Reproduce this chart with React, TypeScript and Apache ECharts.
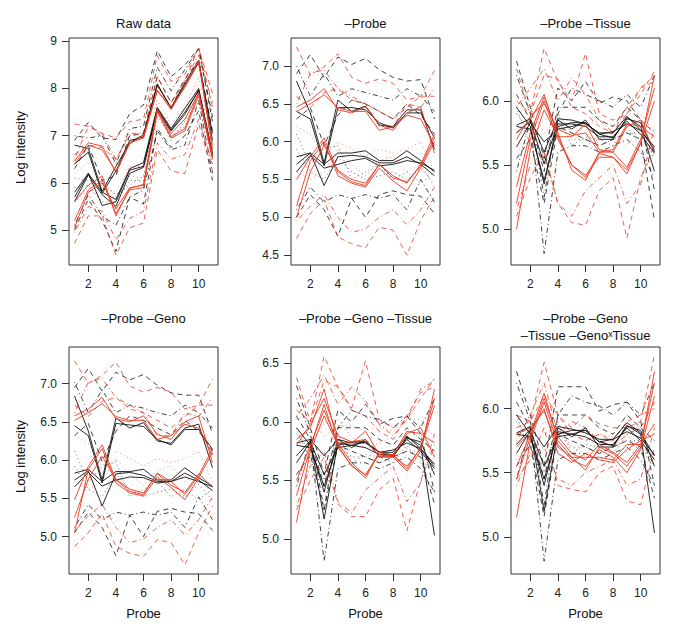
import React, { useEffect, useRef } from "react";
import * as echarts from "echarts";

const probes = [1, 2, 3, 4, 5, 6, 7, 8, 9, 10, 11];
const xTicks = [2, 4, 6, 8, 10];
// line type of each sample (same samples in every panel)
const sampleTypes = ["solid", "solid", "solid", "solid", "solid", "dashed", "dashed", "dashed", "dotdash", "dotdash", "dotted", "dotted"];

const rawBlack = [
  [5.80, 6.20, 5.80, 5.65, 6.30, 6.43, 7.60, 7.15, 7.58, 8.00, 6.60],
  [5.70, 6.20, 5.52, 5.60, 6.27, 6.35, 7.57, 7.12, 7.50, 7.95, 6.55],
  [5.60, 6.17, 5.75, 5.50, 6.20, 6.33, 7.53, 7.10, 7.45, 7.97, 6.62],
  [6.80, 6.73, 5.82, 6.35, 6.85, 7.02, 8.07, 7.60, 8.12, 8.60, 6.90],
  [6.40, 6.65, 5.78, 6.25, 6.90, 6.97, 8.10, 7.58, 8.08, 8.55, 7.05],
  [6.90, 7.28, 6.95, 6.92, 7.47, 7.65, 8.80, 8.25, 8.50, 8.85, 7.30],
  [5.00, 5.65, 5.20, 4.55, 5.70, 5.55, 7.15, 6.75, 7.00, 7.53, 6.05],
  [6.30, 6.80, 6.05, 6.15, 7.00, 7.05, 8.25, 7.70, 8.20, 8.60, 7.10],
  [7.00, 6.95, 7.00, 6.40, 7.15, 7.20, 8.45, 7.95, 8.40, 8.85, 7.40],
  [5.10, 5.75, 5.30, 5.10, 5.70, 5.85, 7.10, 6.70, 6.80, 7.75, 6.20],
  [5.90, 5.95, 5.60, 5.60, 6.05, 6.05, 7.40, 7.00, 7.20, 7.90, 6.45],
  [6.10, 6.05, 6.00, 5.75, 5.95, 6.15, 7.55, 6.90, 7.30, 7.70, 6.60],
];
const rawRed = [
  [5.60, 5.95, 6.15, 5.30, 5.88, 5.97, 7.55, 7.05, 7.35, 7.90, 6.50],
  [5.20, 5.85, 6.05, 5.35, 5.85, 5.90, 7.50, 6.95, 7.10, 7.85, 6.55],
  [5.05, 5.80, 6.00, 5.45, 5.90, 5.95, 7.55, 6.98, 7.15, 7.92, 6.60],
  [6.46, 6.85, 6.78, 6.22, 6.83, 7.00, 7.97, 7.55, 8.05, 8.60, 6.70],
  [6.40, 6.80, 6.70, 6.25, 6.85, 6.95, 7.95, 7.60, 8.02, 8.55, 6.80],
  [7.25, 7.20, 7.05, 6.95, 7.30, 7.35, 8.70, 8.15, 8.30, 8.85, 7.90],
  [4.72, 5.30, 5.30, 4.47, 5.05, 5.15, 6.70, 6.25, 6.20, 7.25, 6.25],
  [6.60, 6.80, 6.75, 6.50, 7.00, 7.05, 8.25, 7.70, 8.15, 8.88, 7.60],
  [6.50, 7.20, 7.05, 6.50, 7.05, 7.05, 8.05, 7.60, 8.20, 8.70, 7.70],
  [4.95, 5.50, 5.40, 4.80, 5.25, 5.40, 6.85, 6.50, 6.60, 7.35, 6.40],
  [5.60, 5.85, 5.70, 5.70, 6.15, 6.10, 7.60, 7.20, 7.30, 7.95, 6.40],
  [6.20, 6.45, 5.90, 5.80, 6.35, 6.35, 7.75, 7.25, 7.60, 8.25, 6.60],
];

const probeBlack = [
  [5.80, 5.85, 5.70, 5.85, 5.85, 5.88, 5.75, 5.75, 5.88, 5.75, 5.60],
  [5.70, 5.85, 5.42, 5.80, 5.82, 5.80, 5.72, 5.72, 5.80, 5.70, 5.55],
  [5.60, 5.82, 5.65, 5.70, 5.75, 5.78, 5.68, 5.70, 5.75, 5.72, 5.62],
  [6.80, 6.38, 5.72, 6.55, 6.40, 6.47, 6.22, 6.20, 6.42, 6.42, 5.90],
  [6.40, 6.30, 5.68, 6.45, 6.45, 6.42, 6.25, 6.18, 6.38, 6.38, 6.05],
  [6.90, 7.15, 6.85, 7.12, 7.02, 7.10, 6.95, 6.85, 6.80, 6.82, 6.30],
  [5.00, 5.30, 5.10, 4.75, 5.25, 5.00, 5.30, 5.35, 5.30, 5.28, 5.05],
  [6.30, 6.45, 5.95, 6.35, 6.55, 6.50, 6.40, 6.30, 6.50, 6.35, 6.10],
  [7.00, 6.60, 6.90, 6.60, 6.70, 6.65, 6.60, 6.55, 6.70, 6.60, 6.40],
  [5.10, 5.40, 5.20, 5.30, 5.25, 5.30, 5.25, 5.30, 5.10, 5.50, 5.20],
  [5.90, 5.60, 5.50, 5.80, 5.60, 5.50, 5.55, 5.60, 5.50, 5.65, 5.45],
  [6.10, 5.70, 5.90, 5.95, 5.50, 5.60, 5.70, 5.50, 5.60, 5.45, 5.60],
];
const probeRed = [
  [5.50, 5.80, 6.05, 5.60, 5.47, 5.42, 5.70, 5.52, 5.47, 5.68, 6.05],
  [5.15, 5.75, 6.00, 5.55, 5.45, 5.40, 5.65, 5.48, 5.35, 5.65, 6.00],
  [5.00, 5.60, 5.95, 5.62, 5.50, 5.45, 5.70, 5.55, 5.45, 5.70, 6.10],
  [6.46, 6.55, 6.70, 6.42, 6.38, 6.46, 6.22, 6.15, 6.38, 6.46, 5.85],
  [6.40, 6.50, 6.62, 6.45, 6.40, 6.40, 6.15, 6.20, 6.35, 6.30, 5.95],
  [7.25, 6.88, 6.99, 7.16, 6.85, 6.77, 6.83, 6.77, 6.55, 6.60, 6.94],
  [4.72, 5.05, 5.23, 4.74, 4.65, 4.60, 4.87, 4.83, 4.50, 4.96, 5.27],
  [6.60, 6.45, 6.65, 6.70, 6.55, 6.50, 6.40, 6.30, 6.45, 6.60, 6.60],
  [6.50, 6.90, 6.95, 6.70, 6.60, 6.50, 6.20, 6.20, 6.50, 6.45, 6.70],
  [4.95, 5.15, 5.30, 5.00, 4.80, 4.85, 5.00, 5.10, 4.90, 5.10, 5.40],
  [5.60, 5.50, 5.60, 5.90, 5.70, 5.55, 5.75, 5.80, 5.60, 5.70, 5.40],
  [6.20, 6.10, 5.80, 6.00, 5.90, 5.80, 5.90, 5.85, 5.90, 6.00, 5.60],
];

const tissueBlack = [
  [5.81, 5.86, 5.60, 5.86, 5.85, 5.82, 5.75, 5.75, 5.88, 5.77, 5.62],
  [5.75, 5.84, 5.51, 5.82, 5.82, 5.80, 5.72, 5.72, 5.84, 5.74, 5.59],
  [5.64, 5.83, 5.68, 5.78, 5.80, 5.83, 5.74, 5.76, 5.82, 5.77, 5.64],
  [5.95, 5.80, 5.35, 5.85, 5.78, 5.85, 5.70, 5.70, 5.87, 5.80, 5.45],
  [5.80, 5.78, 5.38, 5.80, 5.83, 5.83, 5.74, 5.71, 5.86, 5.83, 5.60],
  [6.31, 5.95, 5.55, 6.10, 6.00, 6.15, 5.98, 6.03, 6.00, 5.85, 5.30],
  [5.55, 5.70, 5.20, 5.80, 5.75, 5.70, 5.65, 5.70, 5.75, 5.70, 5.07],
  [6.05, 5.85, 5.45, 5.95, 5.95, 5.95, 5.85, 5.80, 5.95, 5.85, 5.75],
  [6.20, 5.90, 5.25, 5.90, 6.10, 6.05, 6.00, 5.95, 6.05, 5.95, 6.20],
  [5.45, 5.85, 4.81, 5.60, 5.65, 5.65, 5.60, 5.65, 5.70, 5.60, 5.40],
  [5.95, 5.65, 5.55, 5.80, 5.70, 5.70, 5.65, 5.70, 5.75, 5.75, 5.55],
  [5.90, 5.75, 5.50, 5.90, 5.65, 5.72, 5.70, 5.65, 5.80, 5.65, 5.65],
];
const tissueRed = [
  [5.33, 5.75, 6.03, 5.75, 5.46, 5.38, 5.59, 5.56, 5.46, 5.67, 6.00],
  [5.00, 5.62, 5.93, 5.72, 5.50, 5.42, 5.56, 5.56, 5.43, 5.67, 6.20],
  [5.20, 5.70, 6.00, 5.70, 5.50, 5.40, 5.60, 5.60, 5.48, 5.70, 6.10],
  [5.75, 5.85, 6.05, 5.72, 5.72, 5.82, 5.62, 5.60, 5.80, 5.85, 5.60],
  [5.70, 5.88, 5.98, 5.78, 5.73, 5.75, 5.60, 5.62, 5.82, 5.80, 5.72],
  [6.25, 5.90, 6.41, 6.15, 6.00, 6.37, 5.90, 5.85, 5.90, 6.05, 6.23],
  [5.10, 5.40, 5.60, 5.20, 5.05, 5.03, 5.30, 5.40, 4.93, 5.40, 5.65],
  [6.00, 5.90, 6.20, 6.17, 5.95, 5.90, 5.80, 5.75, 5.95, 6.10, 6.15],
  [5.95, 6.10, 6.25, 6.00, 6.18, 6.05, 5.85, 5.75, 5.90, 6.10, 6.20],
  [5.15, 5.50, 5.60, 5.20, 5.10, 5.30, 5.40, 5.50, 5.20, 5.35, 5.80],
  [5.60, 5.70, 5.85, 5.90, 5.75, 5.65, 5.70, 5.75, 5.65, 5.80, 5.55],
  [5.90, 5.95, 5.75, 5.85, 5.85, 5.80, 5.85, 5.80, 5.90, 5.90, 5.75],
];

const genoBlack = [
  [5.83, 5.88, 5.72, 5.85, 5.85, 5.88, 5.74, 5.74, 5.90, 5.77, 5.66],
  [5.74, 5.86, 5.40, 5.82, 5.84, 5.80, 5.72, 5.72, 5.83, 5.74, 5.60],
  [5.65, 5.84, 5.66, 5.74, 5.78, 5.77, 5.70, 5.72, 5.78, 5.72, 5.65],
  [6.84, 6.38, 5.74, 6.55, 6.42, 6.49, 6.25, 6.22, 6.42, 6.47, 5.90],
  [6.45, 6.32, 5.70, 6.48, 6.46, 6.44, 6.27, 6.20, 6.40, 6.40, 6.14],
  [6.95, 7.20, 6.90, 7.15, 7.05, 7.12, 6.98, 6.88, 6.85, 6.85, 6.35],
  [5.05, 5.32, 5.12, 4.75, 5.28, 5.00, 5.33, 5.37, 5.32, 5.30, 5.08],
  [6.32, 6.48, 5.98, 6.38, 6.58, 6.52, 6.42, 6.33, 6.52, 6.38, 6.12],
  [7.02, 6.62, 6.92, 6.62, 6.72, 6.68, 6.62, 6.58, 6.72, 6.62, 6.42],
  [5.12, 5.42, 5.22, 5.32, 5.28, 5.32, 5.28, 5.32, 5.12, 5.52, 5.22],
  [5.92, 5.62, 5.52, 5.82, 5.62, 5.52, 5.58, 5.62, 5.52, 5.68, 5.48],
  [6.12, 5.72, 5.92, 5.98, 5.52, 5.62, 5.72, 5.52, 5.62, 5.48, 5.62],
];
const genoRed = [
  [5.48, 5.92, 6.20, 5.74, 5.59, 5.55, 5.83, 5.72, 5.55, 5.80, 6.15],
  [5.05, 5.88, 6.15, 5.70, 5.57, 5.53, 5.78, 5.64, 5.48, 5.77, 6.10],
  [5.25, 5.75, 6.05, 5.75, 5.62, 5.57, 5.82, 5.67, 5.58, 5.82, 5.65],
  [6.58, 6.67, 6.82, 6.54, 6.50, 6.58, 6.34, 6.27, 6.50, 6.58, 5.97],
  [6.52, 6.62, 6.74, 6.57, 6.52, 6.52, 6.27, 6.32, 6.47, 6.42, 6.07],
  [7.30, 7.00, 7.11, 7.28, 6.97, 6.89, 6.95, 6.89, 6.67, 6.72, 7.06],
  [4.87, 5.05, 5.30, 4.87, 4.78, 4.74, 4.96, 4.92, 4.63, 5.05, 5.40],
  [6.72, 6.57, 6.77, 6.82, 6.67, 6.62, 6.52, 6.42, 6.57, 6.72, 6.72],
  [6.62, 7.02, 7.07, 6.82, 6.72, 6.62, 6.32, 6.32, 6.62, 6.57, 6.82],
  [5.07, 5.27, 5.42, 5.12, 4.92, 4.97, 5.12, 5.22, 5.02, 5.22, 5.52],
  [5.72, 5.62, 5.72, 6.02, 5.82, 5.67, 5.87, 5.92, 5.72, 5.82, 5.52],
  [6.32, 6.22, 5.92, 6.12, 6.02, 5.92, 6.02, 5.97, 6.02, 6.12, 5.72],
];

const genoTissueBlack = [
  [5.82, 5.85, 5.71, 5.85, 5.82, 5.82, 5.74, 5.74, 5.88, 5.77, 5.62],
  [5.71, 5.84, 5.17, 5.82, 5.80, 5.78, 5.72, 5.72, 5.85, 5.75, 5.60],
  [5.65, 5.83, 5.55, 5.78, 5.80, 5.83, 5.74, 5.76, 5.82, 5.77, 5.64],
  [5.95, 5.80, 5.40, 5.85, 5.78, 5.85, 5.70, 5.70, 5.87, 5.80, 5.03],
  [5.80, 5.78, 5.45, 5.80, 5.83, 5.83, 5.74, 5.71, 5.86, 5.83, 5.55],
  [6.31, 5.95, 5.55, 6.10, 6.00, 6.15, 5.98, 6.03, 6.05, 5.90, 5.40],
  [5.55, 5.72, 5.25, 5.80, 5.75, 5.70, 5.65, 5.70, 5.75, 5.70, 5.30],
  [6.05, 5.85, 5.45, 5.95, 5.95, 5.95, 5.85, 5.80, 5.95, 5.85, 5.75],
  [6.20, 5.90, 5.25, 5.95, 6.10, 6.05, 6.02, 5.95, 6.05, 5.95, 6.20],
  [5.45, 5.85, 4.81, 5.60, 5.65, 5.65, 5.60, 5.65, 5.70, 5.60, 5.40],
  [5.95, 5.65, 5.55, 5.80, 5.70, 5.70, 5.65, 5.70, 5.75, 5.75, 5.55],
  [5.90, 5.75, 5.50, 5.90, 5.65, 5.72, 5.70, 5.65, 5.80, 5.65, 5.65],
];
const genoTissueRed = [
  [5.50, 5.80, 6.10, 5.82, 5.65, 5.54, 5.74, 5.71, 5.62, 5.77, 6.14],
  [5.14, 5.75, 6.05, 5.80, 5.62, 5.55, 5.72, 5.70, 5.58, 5.75, 6.28],
  [5.37, 5.78, 6.15, 5.78, 5.63, 5.52, 5.74, 5.72, 5.60, 5.78, 6.20],
  [5.85, 5.95, 6.28, 5.82, 5.82, 5.92, 5.72, 5.70, 5.90, 5.95, 5.70],
  [5.80, 5.98, 6.20, 5.88, 5.83, 5.85, 5.70, 5.72, 5.92, 5.90, 5.82],
  [6.38, 6.00, 6.56, 6.30, 6.12, 6.52, 6.02, 5.95, 6.02, 6.20, 6.37],
  [5.25, 5.50, 5.70, 5.30, 5.19, 5.19, 5.42, 5.52, 5.07, 5.50, 5.80],
  [6.10, 6.00, 6.35, 6.30, 6.10, 6.05, 5.92, 5.85, 6.05, 6.25, 6.30],
  [6.05, 6.20, 6.40, 6.15, 6.30, 6.18, 5.98, 5.88, 6.02, 6.28, 6.35],
  [5.28, 5.62, 5.75, 5.32, 5.22, 5.42, 5.52, 5.62, 5.32, 5.48, 5.90],
  [5.72, 5.82, 5.98, 6.02, 5.87, 5.77, 5.82, 5.87, 5.77, 5.92, 5.67],
  [6.02, 6.07, 5.87, 5.97, 5.97, 5.92, 5.97, 5.92, 6.02, 6.02, 5.87],
];

const interBlack = [
  [5.81, 5.86, 5.70, 5.86, 5.84, 5.81, 5.76, 5.76, 5.89, 5.81, 5.63],
  [5.72, 5.84, 5.20, 5.82, 5.80, 5.78, 5.72, 5.72, 5.85, 5.75, 5.60],
  [5.65, 5.83, 5.55, 5.78, 5.80, 5.83, 5.74, 5.76, 5.82, 5.77, 5.64],
  [5.95, 5.80, 5.40, 5.85, 5.78, 5.85, 5.70, 5.70, 5.87, 5.80, 5.03],
  [5.80, 5.78, 5.45, 5.80, 5.83, 5.83, 5.74, 5.71, 5.86, 5.83, 5.55],
  [6.29, 5.95, 5.55, 6.17, 6.17, 6.17, 5.98, 6.03, 6.05, 5.90, 5.40],
  [5.55, 5.72, 5.16, 5.80, 5.75, 5.70, 5.65, 5.70, 5.75, 5.70, 5.30],
  [6.05, 5.85, 5.45, 5.95, 5.95, 5.95, 5.85, 5.80, 5.95, 5.85, 5.75],
  [6.20, 5.90, 5.25, 5.95, 6.10, 6.05, 6.02, 5.95, 6.05, 5.95, 6.20],
  [5.45, 5.85, 4.81, 5.60, 5.65, 5.65, 5.60, 5.65, 5.70, 5.60, 5.40],
  [5.95, 5.65, 5.55, 5.80, 5.70, 5.70, 5.65, 5.70, 5.75, 5.75, 5.55],
  [5.90, 5.75, 5.50, 5.90, 5.65, 5.72, 5.70, 5.65, 5.80, 5.65, 5.65],
];
const interRed = [
  [5.55, 5.80, 6.12, 5.75, 5.62, 5.52, 5.70, 5.65, 5.55, 5.70, 6.29],
  [5.15, 5.75, 6.05, 5.72, 5.60, 5.55, 5.68, 5.62, 5.50, 5.68, 6.10],
  [5.45, 5.78, 6.08, 5.78, 5.65, 5.60, 5.72, 5.66, 5.58, 5.72, 6.20],
  [5.70, 5.82, 6.00, 5.65, 5.58, 5.65, 5.60, 5.58, 5.68, 5.75, 5.80],
  [5.80, 5.85, 5.98, 5.70, 5.62, 5.62, 5.62, 5.60, 5.72, 5.72, 5.88],
  [5.95, 5.90, 6.36, 5.95, 5.85, 5.95, 5.88, 5.85, 5.85, 5.90, 6.42],
  [5.45, 5.60, 5.85, 5.40, 5.37, 5.35, 5.50, 5.55, 5.28, 5.25, 5.70],
  [5.85, 5.90, 6.10, 5.95, 5.80, 5.75, 5.80, 5.75, 5.90, 5.95, 6.00],
  [5.75, 5.95, 6.20, 5.80, 5.90, 5.85, 5.75, 5.70, 5.80, 5.85, 6.05],
  [5.40, 5.65, 5.70, 5.45, 5.40, 5.50, 5.55, 5.60, 5.40, 5.45, 5.85],
  [5.60, 5.75, 5.90, 5.85, 5.70, 5.65, 5.70, 5.75, 5.65, 5.80, 5.60],
  [5.85, 5.90, 5.80, 5.85, 5.80, 5.75, 5.80, 5.78, 5.85, 5.85, 5.75],
];

const panelTitles = [
  ["Raw data"],
  ["\u2013Probe"],
  ["\u2013Probe \u2013Tissue"],
  ["\u2013Probe \u2013Geno"],
  ["\u2013Probe \u2013Geno \u2013Tissue"],
  ["\u2013Probe \u2013Geno", "\u2013Tissue \u2013Geno\u02E3Tissue"],
];
const panelYTicks = [
  [5, 6, 7, 8, 9],
  [4.5, 5.0, 5.5, 6.0, 6.5, 7.0],
  [5.0, 5.5, 6.0],
  [5.0, 5.5, 6.0, 6.5, 7.0],
  [5.0, 5.5, 6.0, 6.5],
  [5.0, 5.5, 6.0],
];
const panelBlack = [rawBlack, probeBlack, tissueBlack, genoBlack, genoTissueBlack, interBlack];
const panelRed = [rawRed, probeRed, tissueRed, genoRed, genoTissueRed, interRed];
const yAxisLabel = "Log intensity";
const xAxisLabel = "Probe";

// layout
const colLeft = [69, 291, 511];
const rowTop = [38, 347];
const boxW = 149;
const boxH = 227;
const yLimits = [
  [4.26, 9.07],
  [4.37, 7.37],
  [4.72, 6.49],
  [4.51, 7.48],
  [4.70, 6.64],
  [4.71, 6.48],
];
const FONT = "'Liberation Sans', Arial, Helvetica, sans-serif";
const BLACK = "#111111";
const RED = "#EA3A22";

function dashFor(t: string): any {
  if (t === "dashed") return [5, 4];
  if (t === "dotted") return [1, 3];
  if (t === "dotdash") return [1, 3, 5, 3];
  return "solid";
}

export default function App() {
  const ref = useRef<HTMLDivElement>(null);
  useEffect(() => {
    document.body.style.margin = "0";
    if (!ref.current) return;
    const chart = echarts.init(ref.current, null, { renderer: "svg" });
    const grids: any[] = [];
    const xAxes: any[] = [];
    const yAxes: any[] = [];
    const series: any[] = [];
    const graphics: any[] = [];
    for (let p = 0; p < 6; p++) {
      const row = Math.floor(p / 3);
      const col = p % 3;
      const left = colLeft[col];
      const top = rowTop[row];
      grids.push({
        left, top, width: boxW, height: boxH,
        show: true, borderColor: "#333", borderWidth: 1, backgroundColor: "transparent",
      });
      xAxes.push({
        type: "value", gridIndex: p, min: 0.6, max: 11.4,
        axisLine: { show: false },
        splitLine: { show: false },
        axisTick: { show: true, inside: false, length: 7, lineStyle: { color: "#333" }, customValues: xTicks },
        axisLabel: { show: true, margin: 13, fontSize: 12, fontFamily: FONT, color: "#222", customValues: xTicks },
      });
      const ticks = panelYTicks[p];
      yAxes.push({
        type: "value", gridIndex: p, min: yLimits[p][0], max: yLimits[p][1],
        axisLine: { show: false },
        splitLine: { show: false },
        axisTick: { show: true, inside: false, length: 7, lineStyle: { color: "#333" }, customValues: ticks },
        axisLabel: {
          show: true, margin: 12, fontSize: 12, fontFamily: FONT, color: "#222", customValues: ticks,
          formatter: (v: number) => (p === 0 ? String(Math.round(v)) : v.toFixed(1)),
        },
      });
      const addLines = (lines: number[][], color: string) => {
        lines.forEach((vals, i) => {
          const t = sampleTypes[i];
          series.push({
            type: "line", xAxisIndex: p, yAxisIndex: p, silent: true,
            symbol: "none", showSymbol: false, clip: true,
            data: vals.map((v, j) => [probes[j], v]),
            lineStyle: { color, width: t === "solid" ? 0.9 : 0.8, type: dashFor(t), opacity: t === "dotted" ? 0.75 : 1 },
            z: t === "solid" ? 3 : 2,
          });
        });
      };
      addLines(panelBlack[p], BLACK);
      addLines(panelRed[p], RED);
      // titles
      const t = panelTitles[p];
      const cx = left + boxW / 2;
      const titleY = row === 0 ? [23] : t.length > 1 ? [318, 335] : [318];
      t.forEach((s, k) => {
        graphics.push({
          type: "text", x: cx, y: titleY[k],
          style: { text: s, font: `13px ${FONT}`, fill: "#111", textAlign: "center", textVerticalAlign: "middle" },
        });
      });
      if (col === 0) {
        graphics.push({
          type: "text", x: 20, y: top + boxH / 2 - 4, rotation: Math.PI / 2,
          style: { text: yAxisLabel, font: `13px ${FONT}`, fill: "#111", textAlign: "center", textVerticalAlign: "middle" },
        });
      }
      if (row === 1) {
        graphics.push({
          type: "text", x: cx, y: 613,
          style: { text: xAxisLabel, font: `13px ${FONT}`, fill: "#111", textAlign: "center", textVerticalAlign: "middle" },
        });
      }
    }
    chart.setOption({
      animation: false,
      backgroundColor: "#ffffff",
      grid: grids,
      xAxis: xAxes,
      yAxis: yAxes,
      series,
      graphic: graphics,
    });
    return () => chart.dispose();
  }, []);
  return <div ref={ref} style={{ width: 685, height: 638 }} />;
}
